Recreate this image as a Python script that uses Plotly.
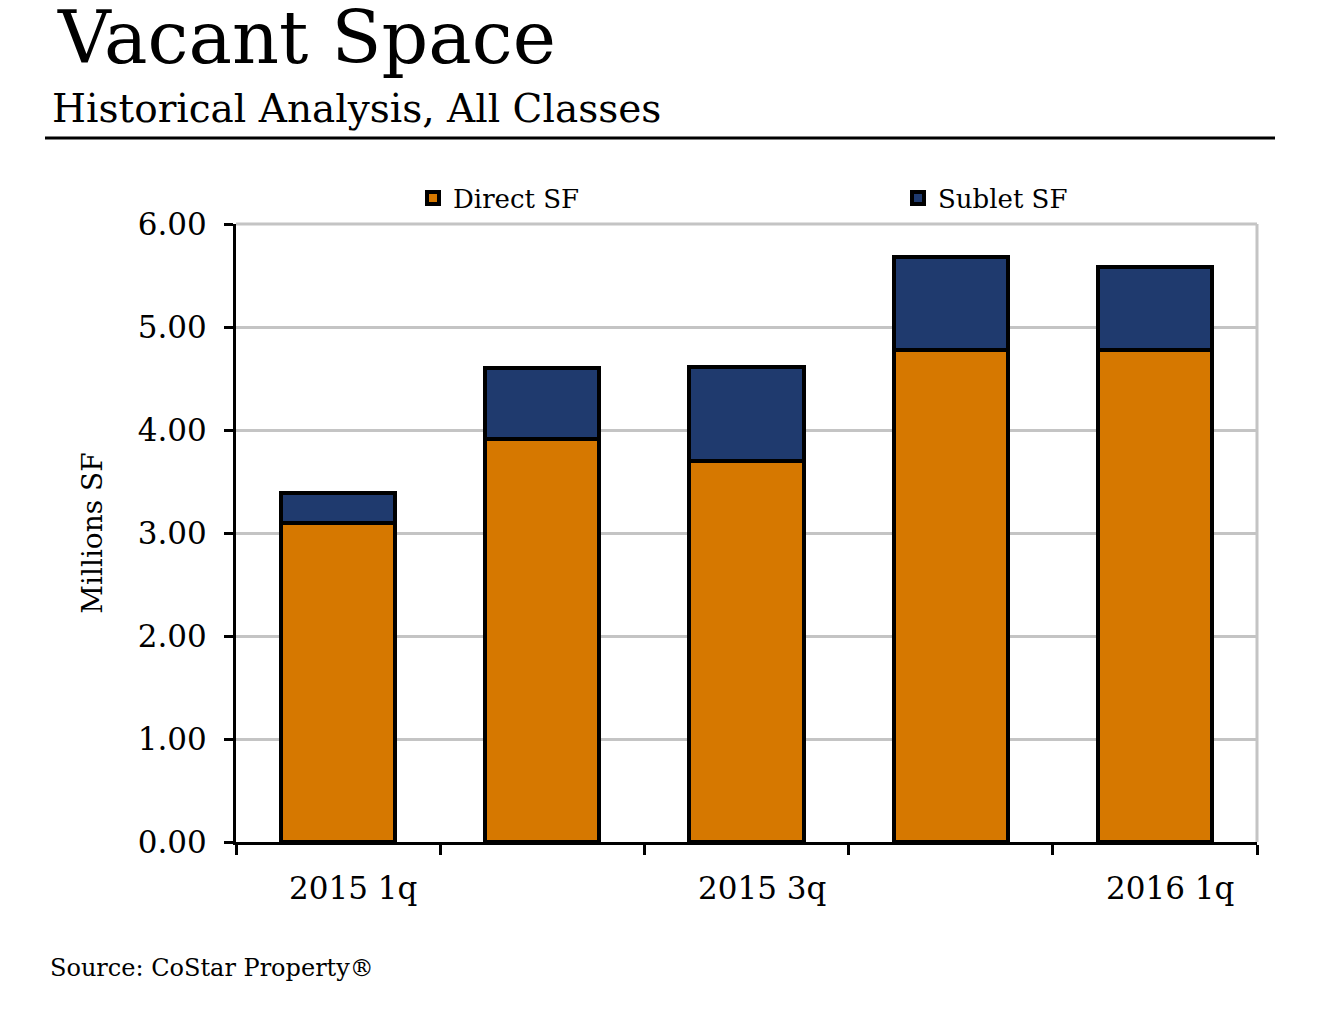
import plotly.graph_objects as go

categories = ["2015 1q", "2015 2q", "2015 3q", "2015 4q", "2016 1q"]
shown_labels = ["2015 1q", "", "2015 3q", "", "2016 1q"]
direct_sf = [3.10, 3.91, 3.70, 4.78, 4.78]
sublet_sf = [0.29, 0.69, 0.91, 0.90, 0.80]
y_ticks = [0, 1, 2, 3, 4, 5, 6]
y_tick_labels = ["0.00", "1.00", "2.00", "3.00", "4.00", "5.00", "6.00"]

FONT = "DejaVu Serif"
OFF = 8  # page body margin offset
W, H = 1332 - OFF, 1010 - OFF
L, R, T, B = 236 - OFF, 75, 224 - OFF, 168
PW, PH = W - L - R, H - T - B


def px_x(p):
    return (p - OFF - L) / PW


def px_y(p):
    return (H - B - (p - OFF)) / PH


xs = list(range(len(categories)))

fig = go.Figure()
fig.add_trace(go.Bar(x=xs, y=direct_sf, name="Direct SF", width=0.56, legend="legend",
                     marker=dict(color="#D67800", line=dict(color="black", width=4))))
fig.add_trace(go.Bar(x=xs, y=sublet_sf, name="Sublet SF", width=0.56, legend="legend2",
                     marker=dict(color="#1F3A6E", line=dict(color="black", width=4))))

boundaries = [i - 0.5 for i in range(len(categories) + 1)]
leg_common = dict(orientation="h", yanchor="middle", xanchor="left",
                  font=dict(size=26, family=FONT), bgcolor="rgba(0,0,0,0)",
                  itemwidth=30)
fig.update_layout(
    barmode="stack",
    width=W, height=H,
    paper_bgcolor="white", plot_bgcolor="white",
    margin=dict(l=L, r=R, t=T, b=B, autoexpand=False),
    font=dict(family=FONT, color="black"),
    showlegend=True,
    legend=dict(x=px_x(413), y=px_y(198), **leg_common),
    legend2=dict(x=px_x(898), y=px_y(198), **leg_common),
    xaxis=dict(range=[-0.5, len(categories) - 0.5], tickvals=boundaries,
               ticktext=[""] * len(boundaries), ticks="outside", ticklen=10, tickwidth=3,
               tickcolor="black", showline=True, linecolor="black", linewidth=3,
               showgrid=False, zeroline=False, mirror=False, automargin=False),
    yaxis=dict(range=[0, 6], tickvals=y_ticks, ticktext=y_tick_labels,
               ticks="outside", ticklen=9, tickwidth=3, tickcolor="black",
               showline=True, linecolor="black", linewidth=3,
               gridcolor="#C4C4C4", gridwidth=3, zeroline=False, automargin=False,
               ticklabelstandoff=11,
               tickfont=dict(size=31, family=FONT),
               title=dict(text="Millions SF", font=dict(size=28, family=FONT), standoff=27)),
)

# plot area border (top and right) in gray
fig.add_shape(type="line", xref="paper", yref="paper", x0=0, x1=1, y0=1, y1=1,
              line=dict(color="#C4C4C4", width=3))
fig.add_shape(type="line", xref="paper", yref="paper", x0=1, x1=1, y0=0, y1=1,
              line=dict(color="#C4C4C4", width=3))

# category labels
for xi, lab in zip(xs, shown_labels):
    if lab:
        fig.add_annotation(x=xi, y=0, xref="x", yref="paper", text=lab, showarrow=False,
                           yanchor="middle", yshift=-46, xshift=15,
                           font=dict(size=31, family=FONT))

# titles
fig.add_annotation(x=px_x(55), y=px_y(37), xref="paper", yref="paper",
                   xanchor="left", yanchor="middle", text="Vacant Space", showarrow=False,
                   font=dict(size=73, family=FONT))
fig.add_annotation(x=px_x(50), y=px_y(108), xref="paper", yref="paper",
                   xanchor="left", yanchor="middle", text="Historical Analysis, All Classes",
                   showarrow=False, font=dict(size=39, family=FONT))
fig.add_shape(type="line", xref="paper", yref="paper",
              x0=px_x(45), x1=px_x(1275), y0=px_y(138), y1=px_y(138),
              line=dict(color="black", width=3))
fig.add_annotation(x=px_x(48), y=px_y(968), xref="paper", yref="paper",
                   xanchor="left", yanchor="middle", text="Source: CoStar Property®",
                   showarrow=False, font=dict(size=24, family=FONT))

fig.write_html("out.html")
